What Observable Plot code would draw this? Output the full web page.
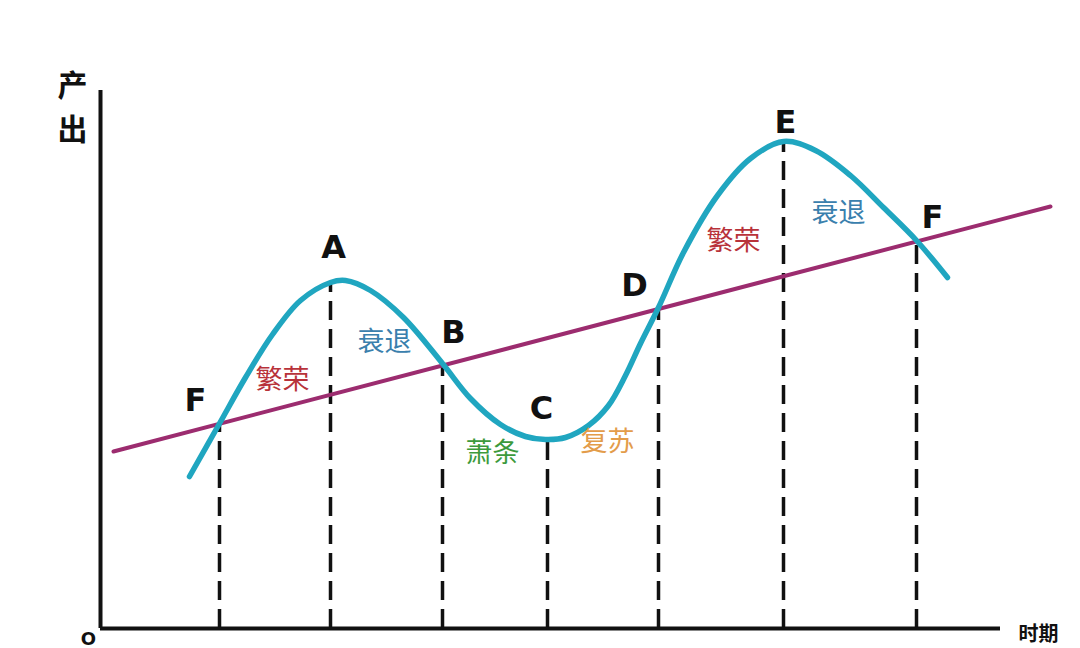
<!DOCTYPE html>
<html>
<head>
<meta charset="utf-8">
<script src="https://cdn.jsdelivr.net/npm/d3@7"></script>
<script src="https://cdn.jsdelivr.net/npm/@observablehq/plot@0.6"></script>
<style>
  html, body { margin: 0; padding: 0; background: #fff; overflow: hidden; }
  #chart svg { display: block; }
</style>
</head>
<body>
<div id="chart"></div>
<script>
// Business cycle curve: time vs output (arbitrary units)
const cycleTime   = [0.89, 1.19, 1.45, 1.72, 2.00, 2.30, 2.45, 2.70, 3.03, 3.42, 3.70, 4.00, 4.25, 4.45, 4.65, 4.88, 5.08, 5.25, 5.40, 5.58, 5.83, 6.17, 6.50, 6.83, 7.15, 7.50, 7.83, 8.16, 8.47];
const cycleOutput = [1.52, 2.05, 2.51, 2.94, 3.28, 3.46, 3.48, 3.38, 3.11, 2.65, 2.30, 2.04, 1.92, 1.89, 1.91, 2.03, 2.23, 2.53, 2.85, 3.21, 3.76, 4.33, 4.70, 4.87, 4.78, 4.53, 4.21, 3.88, 3.51];

// Long-run trend line
const trendTime   = [0.13, 9.50];
const trendOutput = [1.77, 4.22];

// Turning points
const pointNames  = ["F", "A", "B", "C", "D", "E", "F"];
const pointTime   = [1.19, 2.30, 3.42, 4.47, 5.58, 6.83, 8.16];
const pointOutput = [2.05, 3.47, 2.65, 1.90, 3.21, 4.87, 3.88];
const pointLabelT = [0.95, 2.33, 3.53, 4.41, 5.34, 6.85, 8.32];
const pointLabelV = [2.28, 3.81, 2.96, 2.20, 3.43, 5.06, 4.11];

// Phase labels
const phaseNames  = ["繁荣", "衰退", "萧条", "复苏", "繁荣", "衰退"];
const phaseTime   = [1.82, 2.84, 3.92, 5.07, 6.33, 7.38];
const phaseOutput = [2.48, 2.86, 1.75, 1.86, 3.87, 4.15];
const phaseColors = ["#b8323a", "#3a80ad", "#3c9a3c", "#e39c4a", "#b8323a", "#3a80ad"];

// Axes extents
const xAxisEnd = 9.0;
const yAxisEnd = 5.38;

const curve  = cycleTime.map((t, i) => ({t, v: cycleOutput[i]}));
const trend  = trendTime.map((t, i) => ({t, v: trendOutput[i]}));
const points = pointNames.map((name, i) => ({name, t: pointTime[i], v: pointOutput[i], lt: pointLabelT[i], lv: pointLabelV[i]}));
const phases = phaseNames.map((name, i) => ({name, t: phaseTime[i], v: phaseOutput[i], color: phaseColors[i]}));

const plot = Plot.plot({
  width: 1080,
  height: 648,
  margin: 0,
  x: {domain: [-1, 9.8], axis: null},
  y: {domain: [-0.2, 6.28], axis: null},
  style: {background: "#fff"},
  marks: [
    // dashed drops
    Plot.ruleX(points, {x: "t", y1: () => 0, y2: "v", stroke: "#111", strokeWidth: 3.5, strokeDasharray: "19,9"}),
    // axes
    Plot.ruleY([{v: 0}], {y: "v", x1: () => 0, x2: () => xAxisEnd, stroke: "#111", strokeWidth: 4}),
    Plot.ruleX([{t: 0}], {x: "t", y1: () => 0, y2: () => yAxisEnd, stroke: "#111", strokeWidth: 4}),
    // trend
    Plot.line(trend, {x: "t", y: "v", stroke: "#9c2c6f", strokeWidth: 4}),
    // cycle
    Plot.line(curve, {x: "t", y: "v", stroke: "#20a6c0", strokeWidth: 5.5, curve: "catmull-rom", strokeLinecap: "round"}),
    // turning point letters
    Plot.text(points, {x: "lt", y: "lv", text: "name", fontSize: 32, fontWeight: "bold", fill: "#111",
      fontFamily: "DejaVu Sans"}),
    // phase labels
    Plot.text(phases, {x: "t", y: "v", text: "name", fill: "color", fontSize: 27,
      fontFamily: "Noto Sans CJK SC"}),
    // axis labels
    Plot.text([{s: "产", t: -0.28, v: 5.42}, {s: "出", t: -0.28, v: 4.98}], {x: "t", y: "v", text: "s",
      fontSize: 30, fontWeight: "bold", fill: "#111", fontFamily: "Noto Sans CJK SC"}),
    Plot.text([{s: "时期", t: 9.38, v: -0.06}], {x: "t", y: "v", text: "s",
      fontSize: 20, fontWeight: "bold", fill: "#111", fontFamily: "Noto Sans CJK SC"}),
    Plot.text([{s: "O", t: -0.12, v: -0.11}], {x: "t", y: "v", text: "s",
      fontSize: 18, fontWeight: "bold", fill: "#111", fontFamily: "DejaVu Sans"})
  ]
});
document.getElementById("chart").appendChild(plot);
</script>
</body>
</html>
